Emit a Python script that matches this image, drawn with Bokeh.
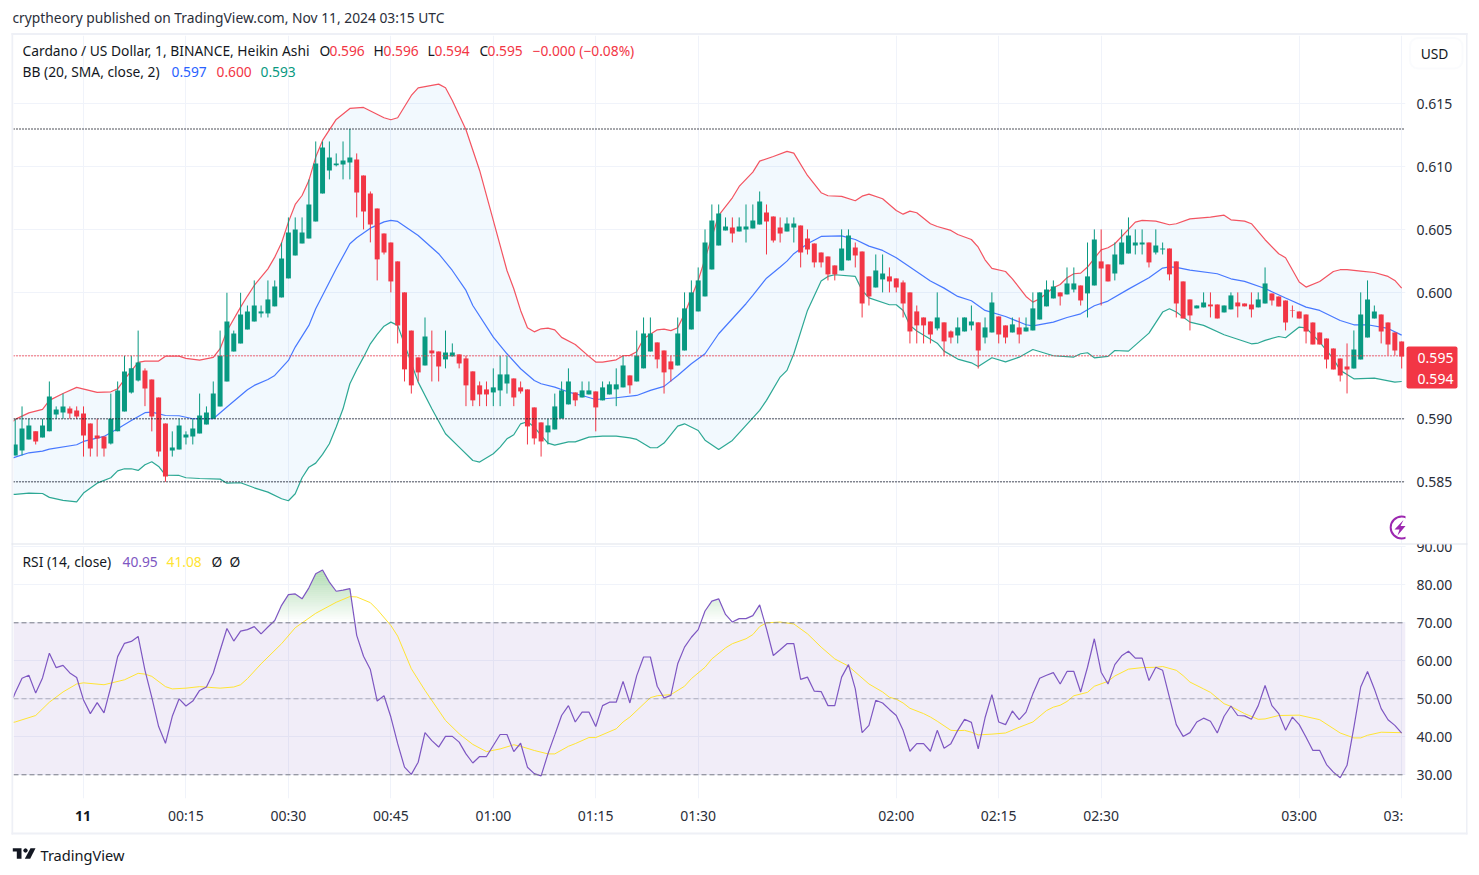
import numpy as np
from bokeh.embed import file_html
from bokeh.layouts import column
from bokeh.models import BoxAnnotation, FixedTicker, Label, PolyAnnotation, Range1d, Span
from bokeh.plotting import figure
from bokeh.resources import INLINE

# Heikin Ashi candles, one per bar
open_ = [.58709,.58748,.58836,.58900,.58852,.58900,.59034,.59050,.59082,.59066,.59042,.58963,.58867,.58860,.58804,.58900,.59058,.59209,.59304,.59384,.59312,.59169,.58963,.58748,.58756,.58852,.58860,.58884,.58955,.59000,
.59098,.59296,.59534,.59598,.59709,.59772,.59836,.59836,.59892,.59963,.60114,.60296,.60392,.60431,.60566,.60788,.60971,.61013,.61018,.61034,.61058,.60931,.60788,.60669,.60471,.60399,.60249,.60003,.59700,.59487,
.59423,.59542,.59534,.59471,.59495,.59511,.59479,.59376,.59265,.59233,.59209,.59225,.59280,.59320,.59249,.59233,.59090,.58971,.58892,.58915,.59003,.59114,.59209,.59169,.59193,.59217,.59146,.59193,.59233,.59249,
.59344,.59296,.59400,.59534,.59606,.59542,.59455,.59423,.59542,.59709,.59852,.59971,.60185,.60376,.60495,.60519,.60487,.60503,.60511,.60542,.60638,.60606,.60519,.60487,.60519,.60534,.60431,.60392,.60320,.60288,
.60217,.60177,.60257,.60360,.60328,.60130,.60042,.60106,.60130,.60114,.60082,.60003,.59852,.59804,.59772,.59717,.59765,.59693,.59661,.59693,.59741,.59765,.59645,.59685,.59812,.59741,.59685,.59725,.59693,.59701,
.59788,.59892,.59955,.60003,.59987,.60026,.60058,.59995,.60058,.60249,.60225,.60153,.60225,.60312,.60376,.60384,.60399,.60320,.60344,.60352,.60249,.60090,.59947,.59876,.59884,.59907,.59907,.59844,.59868,.59923,
.59915,.59907,.59884,.59915,.59995,.59971,.59939,.59860,.59852,.59828,.59765,.59685,.59638,.59558,.59479,.59415,.59399,.59471,.59645,.59796,.59828,.59765,.59685,.59614]
high = [.59000,.59098,.59000,.58900,.59000,.59296,.59098,.59200,.59098,.59098,.59098,.58963,.59000,.58860,.59200,.59296,.59500,.59500,.59700,.59400,.59312,.59169,.58963,.58900,.59000,.58900,.59000,.59200,.59098,.59296,
.59700,.60000,.59700,.60000,.59899,.60098,.59899,.60098,.60098,.60399,.60598,.60598,.60598,.60899,.61201,.61201,.61201,.61106,.61201,.61300,.61106,.60931,.60804,.60669,.60471,.60399,.60249,.60003,.59700,.59487,
.59804,.59700,.59534,.59700,.59598,.59511,.59500,.59376,.59296,.59296,.59400,.59500,.59500,.59320,.59296,.59233,.59090,.58971,.59000,.59200,.59296,.59400,.59209,.59296,.59296,.59217,.59296,.59296,.59400,.59500,
.59344,.59700,.59804,.59804,.59606,.59542,.59500,.59804,.60003,.60098,.60201,.60503,.60701,.60701,.60598,.60598,.60598,.60701,.60701,.60804,.60701,.60606,.60598,.60598,.60598,.60534,.60503,.60392,.60320,.60288,
.60217,.60503,.60503,.60399,.60328,.60130,.60304,.60304,.60201,.60114,.60098,.60003,.59899,.59804,.59772,.60003,.59765,.59701,.59804,.59804,.59899,.59765,.59804,.60003,.59812,.59741,.59804,.59804,.59804,.60003,
.60003,.60098,.60098,.60003,.60201,.60201,.60058,.60399,.60503,.60503,.60225,.60399,.60503,.60598,.60503,.60503,.60399,.60503,.60399,.60352,.60249,.60090,.59947,.59899,.60003,.60003,.59907,.59899,.60003,.60003,
.59915,.60003,.60003,.60201,.59995,.59971,.59939,.59899,.59852,.59828,.59765,.59685,.59638,.59558,.59479,.59598,.59701,.60003,.60098,.59899,.59828,.59765,.59685,.59614]
low = [.58709,.58709,.58836,.58796,.58852,.58900,.59000,.59000,.59000,.59000,.58700,.58700,.58700,.58700,.58796,.58900,.59058,.59200,.59296,.59100,.58900,.58700,.58500,.58700,.58756,.58796,.58796,.58884,.58955,.59000,
.59098,.59296,.59534,.59598,.59709,.59772,.59804,.59804,.59892,.59963,.60114,.60296,.60392,.60431,.60566,.60788,.60900,.61003,.60900,.60900,.60598,.60503,.60400,.60098,.60304,.60003,.59598,.59296,.59200,.59296,
.59423,.59296,.59296,.59400,.59495,.59400,.59100,.59100,.59100,.59100,.59100,.59100,.59200,.59100,.59200,.58796,.58796,.58700,.58796,.58915,.59003,.59114,.59100,.59169,.59193,.58900,.59146,.59193,.59100,.59249,
.59200,.59296,.59400,.59534,.59400,.59200,.59296,.59423,.59542,.59709,.59852,.59971,.60185,.60376,.60495,.60399,.60487,.60399,.60511,.60542,.60304,.60399,.60399,.60487,.60399,.60201,.60304,.60201,.60201,.60098,
.60098,.60177,.60257,.60201,.59804,.59899,.60042,.60003,.60003,.60003,.59804,.59598,.59598,.59598,.59598,.59701,.59500,.59598,.59598,.59693,.59701,.59399,.59598,.59685,.59598,.59598,.59685,.59598,.59693,.59701,
.59788,.59892,.59955,.59899,.59987,.60003,.59899,.59804,.60058,.59899,.60090,.60098,.60225,.60312,.60304,.60304,.60201,.60304,.60304,.60098,.59804,.59796,.59701,.59876,.59884,.59804,.59796,.59844,.59868,.59804,
.59892,.59804,.59884,.59915,.59899,.59892,.59701,.59804,.59796,.59598,.59590,.59590,.59399,.59392,.59296,.59201,.59399,.59471,.59645,.59796,.59598,.59503,.59503,.59399]
close = [.58796,.58923,.58947,.58820,.58947,.59177,.59074,.59098,.59042,.59018,.58867,.58764,.58844,.58764,.59000,.59225,.59376,.59400,.59447,.59241,.59018,.58740,.58542,.58772,.58947,.58876,.58923,.59026,.59050,.59200,
.59500,.59772,.59677,.59828,.59852,.59899,.59852,.59947,.60050,.60272,.60479,.60503,.60479,.60701,.61026,.61153,.61074,.61026,.61050,.61074,.60796,.60646,.60542,.60265,.60320,.60090,.59741,.59392,.59265,.59368,
.59653,.59519,.59415,.59526,.59526,.59439,.59265,.59146,.59193,.59193,.59249,.59352,.59352,.59169,.59217,.58939,.58844,.58820,.58947,.59098,.59225,.59296,.59146,.59225,.59225,.59090,.59249,.59273,.59273,.59423,
.59265,.59500,.59677,.59677,.59471,.59368,.59392,.59677,.59876,.60003,.60098,.60399,.60574,.60630,.60526,.60471,.60526,.60526,.60574,.60725,.60566,.60415,.60471,.60550,.60550,.60320,.60344,.60241,.60241,.60146,
.60146,.60352,.60455,.60296,.59915,.59971,.60177,.60153,.60090,.60042,.59915,.59693,.59741,.59741,.59669,.59804,.59614,.59645,.59725,.59804,.59772,.59542,.59725,.59923,.59669,.59645,.59749,.59669,.59725,.59876,
.60003,.60026,.60050,.59971,.60074,.60074,.59939,.60130,.60423,.60193,.60090,.60304,.60399,.60455,.60399,.60399,.60241,.60376,.60352,.60146,.59915,.59796,.59820,.59899,.59923,.59892,.59796,.59899,.59979,.59892,
.59892,.59868,.59947,.60074,.59939,.59892,.59765,.59855,.59796,.59693,.59590,.59590,.59471,.59392,.59344,.59392,.59550,.59828,.59947,.59852,.59693,.59590,.59542,.59495]

# Bollinger Bands, read at the vertices visible in the picture (bar index, price)
upper_i = [-0.3,0,2,4,5,7,9,12,14,15,16,18,19,21,22,24,25,27,29,30,31,33,34,35,37,38,39,40,41,42,43,44,45,47,49,51,54,55,56,58,59,62,63,64,66,68,70,72,73,74,75,76,77,78,79,80,82,84,85,86,88,89,90,91,92,94,95,96,97,98,100,103,105,106,108,109,111,113,114,116,118,119,121,123,124,125,127,129,130,131,132,134,135,137,138,140,141,142,143,145,146,148,149,150,152,153,154,155,156,157,159,160,161,164,165,167,169,170,172,175,177,178,180,181,183,185,186,188,189,191,193,194,195,197,199,201,202,203]
upper_v = [.58980,.58995,.59047,.59074,.59146,.59201,.59249,.59209,.59214,.59238,.59312,.59447,.59458,.59458,.59497,.59497,.59479,.59466,.59487,.59556,.59696,.59886,.59974,.60058,.60190,.60283,.60397,.60561,.60701,.60772,.60892,.61077,.61209,.61376,.61463,.61471,.61389,.61373,.61389,.61566,.61627,.61656,.61627,.61526,.61294,.60971,.60574,.60177,.60032,.59860,.59722,.59690,.59714,.59720,.59706,.59646,.59590,.59495,.59450,.59450,.59468,.59500,.59503,.59532,.59635,.59706,.59712,.59700,.59722,.59833,.60098,.60614,.60754,.60844,.60958,.61045,.61082,.61122,.61108,.60931,.60794,.60770,.60765,.60730,.60767,.60783,.60746,.60653,.60624,.60648,.60635,.60548,.60526,.60495,.60463,.60423,.60362,.60262,.60193,.60169,.60111,.59971,.59926,.59952,.60040,.60066,.60119,.60151,.60156,.60204,.60341,.60357,.60389,.60561,.60574,.60569,.60540,.60548,.60587,.60600,.60616,.60579,.60569,.60548,.60421,.60310,.60278,.60085,.60045,.60090,.60169,.60183,.60183,.60172,.60161,.60130,.60098,.60037]
basis_i = [-0.3,0,2,4,5,9,10,13,15,17,19,20,22,24,26,29,31,34,35,37,38,40,41,43,44,47,49,50,52,54,55,56,59,62,64,66,67,70,72,74,76,77,79,81,83,85,88,91,93,95,97,99,101,103,105,107,108,110,112,113,114,116,118,121,123,125,127,129,131,134,136,138,140,142,145,148,149,152,154,156,158,160,163,166,168,169,170,172,176,178,180,183,186,189,191,194,196,198,201,203]
basis_v = [.58690,.58696,.58730,.58743,.58759,.58794,.58820,.58860,.58921,.58987,.59048,.59053,.59026,.59024,.59000,.59000,.59093,.59230,.59265,.59312,.59344,.59463,.59569,.59741,.59873,.60190,.60389,.60437,.60513,.60563,.60574,.60566,.60455,.60310,.60177,.60019,.59899,.59648,.59516,.59397,.59304,.59278,.59251,.59212,.59185,.59153,.59167,.59185,.59225,.59257,.59344,.59437,.59516,.59675,.59794,.59913,.59979,.60116,.60204,.60251,.60310,.60389,.60447,.60452,.60423,.60370,.60336,.60278,.60204,.60093,.60037,.59971,.59937,.59860,.59812,.59746,.59738,.59767,.59804,.59833,.59897,.59934,.60029,.60119,.60196,.60206,.60201,.60180,.60151,.60111,.60090,.60034,.59958,.59886,.59860,.59780,.59746,.59746,.59717,.59664]
lower_i = [-0.3,0,2,4,5,7,9,10,12,14,15,16,17,18,19,20,21,22,24,25,27,30,31,33,35,37,39,40,41,42,43,44,45,46,47,48,49,50,51,52,53,54,55,56,59,61,63,65,67,68,70,71,72,73,74,75,76,77,78,79,81,82,84,86,88,90,91,93,94,95,97,98,100,101,103,105,109,110,112,113,114,116,118,119,120,123,124,125,128,129,130,131,132,135,136,138,140,141,143,145,147,149,152,155,156,157,158,160,161,163,166,168,169,170,172,174,177,181,182,183,185,186,188,189,191,193,194,195,196,199,202,203]
lower_v = [.58400,.58400,.58410,.58407,.58376,.58352,.58341,.58410,.58489,.58532,.58587,.58603,.58603,.58590,.58635,.58659,.58622,.58553,.58550,.58532,.58526,.58521,.58489,.58492,.58452,.58418,.58365,.58349,.58405,.58532,.58616,.58648,.58717,.58802,.58934,.59079,.59278,.59389,.59489,.59595,.59669,.59735,.59767,.59741,.59291,.59079,.58881,.58775,.58669,.58656,.58722,.58775,.58841,.58873,.58960,.58976,.58934,.58868,.58807,.58791,.58817,.58817,.58854,.58862,.58862,.58849,.58836,.58770,.58770,.58807,.58942,.58960,.58907,.58830,.58756,.58828,.59067,.59146,.59331,.59384,.59516,.59860,.60093,.60130,.60143,.60130,.60019,.59960,.59905,.59905,.59860,.59741,.59696,.59600,.59537,.59474,.59444,.59415,.59484,.59452,.59489,.59550,.59500,.59490,.59516,.59524,.59484,.59495,.59542,.59537,.59680,.59847,.59873,.59847,.59767,.59741,.59667,.59595,.59601,.59622,.59653,.59643,.59728,.59722,.59608,.59476,.59384,.59352,.59317,.59323,.59291,.59296]
price_levels = [.613, .590, .585]
last_close = .595

# RSI (bar by bar) and its moving average (read at vertices)
rsi = [50.3,51.6,55.4,56.2,51.5,55.5,62.0,58.2,58.8,56.8,55.6,49.7,46.1,49.0,46.3,53.1,61.1,64.6,65.1,66.4,57.5,50.4,42.7,38.3,45.4,50.0,48.1,49.4,52.2,53.1,56.8,62.7,68.5,65.2,67.8,68.2,69.0,67.1,68.9,70.6,74.6,77.4,77.6,76.3,79.2,82.9,83.9,80.7,78.3,78.6,79.0,66.7,61.2,57.7,49.4,50.8,45.2,38.2,32.0,30.1,33.3,41.1,39.0,37.3,40.1,40.1,38.6,35.5,33.1,34.8,34.8,37.7,
40.6,40.6,36.1,38.3,32.0,30.3,29.7,35.5,40.5,45.6,48.2,43.9,46.5,46.5,42.7,48.2,49.1,49.1,54.6,48.9,56.1,61.0,61.0,53.3,50.2,50.9,59.2,63.6,66.2,68.2,73.1,75.7,76.3,72.2,70.2,71.1,71.1,71.9,74.7,68.4,61.4,62.9,64.5,64.5,55.1,55.7,52.0,51.9,48.2,48.2,55.7,59.0,52.6,41.1,43.0,49.6,48.9,47.2,45.6,41.7,36.2,38.2,38.2,36.2,41.7,37.0,38.2,41.7,44.6,43.8,36.8,45.0,
51.1,43.9,43.2,46.8,44.5,46.5,51.3,55.4,56.2,56.9,53.9,57.2,57.2,51.8,58.3,65.8,57.0,53.9,59.0,61.3,62.5,60.7,60.7,54.8,58.3,57.5,50.4,43.2,40.1,41.1,43.9,44.9,44.1,41.0,45.4,48.1,45.6,45.5,44.6,48.2,53.5,48.2,46.1,41.7,45.2,43.2,39.9,36.4,36.4,32.7,30.7,29.2,32.5,42.5,53.1,57.2,52.6,47.4,44.5,43.0,40.95]
rsi_i = [-0.3] + list(range(204))
ma_i = [-0.3,0,3,5,7,9,10,13,16,18,19,20,22,23,25,27,30,32,33,34,36,39,41,44,47,49,50,52,53,55,56,58,60,63,65,67,69,71,73,74,76,78,79,81,82,84,85,88,89,90,93,94,96,98,99,101,102,104,105,107,108,109,110,112,114,116,118,120,122,125,127,128,129,130,131,133,134,135,137,138,139,140,141,143,145,147,149,151,152,153,154,155,157,158,160,161,163,165,167,168,170,171,172,174,175,177,178,180,182,183,185,188,191,194,196,197,198,200,203]
ma_v = [43.8,43.9,45.6,49.1,51.8,53.9,54.2,53.7,55.0,56.7,56.5,55.9,53.2,52.6,52.8,53.2,52.8,53.1,53.7,55.3,59.2,64.5,68.7,72.5,75.4,76.9,76.8,75.3,73.5,69.3,66.5,57.9,52.2,44.3,40.8,38.0,36.1,36.8,37.9,37.5,36.4,35.5,35.5,37.5,38.2,39.8,39.8,42.1,43.9,45.2,50.3,50.8,51.1,53.3,55.3,58.3,60.5,63.4,64.5,65.8,66.9,69.0,70.0,70.2,69.7,67.1,63.6,60.5,58.6,53.9,51.8,50.4,49.9,48.9,47.5,46.1,45.2,44.1,41.7,41.6,41.7,41.2,40.5,40.7,41.0,42.5,43.9,46.9,47.8,48.3,49.3,50.8,51.7,53.3,54.6,56.0,57.8,58.2,58.3,58.5,57.5,56.1,54.4,52.6,51.7,48.7,48.0,46.1,44.6,44.7,45.6,45.7,44.5,41.0,39.7,39.7,40.4,41.2,41.08]

# Axes
time_ticks = [10, 25, 40, 55, 70, 85, 100, 129, 144, 159, 188, 203]
time_labels = ["", "00:15", "00:30", "00:45", "01:00", "01:15", "01:30", "02:00", "02:15", "02:30", "03:00", ""]
price_ticks = [.585, .590, .595, .600, .605, .610, .615]
rsi_ticks = [30, 40, 50, 60, 70, 80]
rsi_grid = rsi_ticks + [90]

GREEN, RED, BLUE = "#089981", "#f23645", "#2962ff"
PURPLE, YELLOW = "#7e57c2", "#ffe433"
INK, GRID, BORDER = "#131722", "#f0f3fa", "#eef0f6"
FONT = "Noto Sans"
FS = 14
LEGEND_FS = 13.8
X_LIMITS = (-0.25, 203.56)


def base(height, ylim, ticks, grid_ticks, b_top, b_bottom):
    p = figure(width=1470, height=height, output_backend="svg", toolbar_location=None,
               x_range=Range1d(*X_LIMITS), y_range=Range1d(*ylim), y_axis_location="right",
               min_border_left=13, min_border_right=65, min_border_top=b_top, min_border_bottom=b_bottom)
    p.outline_line_color = None
    p.xgrid.ticker = FixedTicker(ticks=time_ticks)
    p.ygrid.ticker = FixedTicker(ticks=grid_ticks)
    for g in (p.xgrid, p.ygrid):
        g.grid_line_color = GRID
        g.grid_line_width = 1
    ax = p.yaxis[0]
    ax.ticker = FixedTicker(ticks=ticks)
    ax.axis_line_color = None
    ax.major_tick_line_color = None
    ax.minor_tick_line_color = None
    ax.major_label_standoff = 5
    ax.major_label_text_color = "#2a2e39"
    ax.major_label_text_font = FONT
    ax.major_label_text_font_size = f"{FS}px"
    return p


# ---------- price pane ----------
p1 = base(544, (0.58010, 0.62042), price_ticks, price_ticks, 35, 1)
p1.xaxis.visible = False
p1.yaxis[0].major_label_overrides = {t: f"{t:.3f}" for t in price_ticks}

p1.patch(upper_i + lower_i[::-1], upper_v + lower_v[::-1], fill_color="#2196f3", fill_alpha=0.06, line_color=None)
for lvl in price_levels:
    p1.add_layout(Span(location=lvl, dimension="width", line_color="#131722", line_width=1.4, line_dash="1 2"))
p1.add_layout(Span(location=last_close, dimension="width", line_color=RED, line_width=1.4, line_dash="1 2"))
p1.line(upper_i, upper_v, line_color=RED, line_alpha=0.85, line_width=1.2)
p1.line(basis_i, basis_v, line_color=BLUE, line_alpha=0.85, line_width=1.2)
p1.line(lower_i, lower_v, line_color=GREEN, line_alpha=0.85, line_width=1.2)

bars = np.arange(len(close))
o, h, l, c = map(np.array, (open_, high, low, close))
colors = np.where(c >= o, GREEN, RED).tolist()
p1.segment(bars, h, bars, l, line_color=colors, line_width=1)
p1.vbar(bars, 0.73, np.minimum(o, c), np.maximum(o, c), fill_color=colors, line_color=None)

# purple circled lightning mark, cut by the pane edge
p1.scatter([203], [0.58137], size=22, marker="circle", fill_color="white", line_color="#9c27b0", line_width=2)

# ---------- RSI pane ----------
p2 = base(326, (23.76, 90.08), rsi_ticks, rsi_grid, 2, 72)
p2.yaxis[0].major_label_overrides = {t: f"{t:.2f}" for t in rsi_ticks}
ax = p2.xaxis[0]
ax.ticker = FixedTicker(ticks=time_ticks)
ax.major_label_overrides = dict(zip(time_ticks, time_labels))
ax.axis_line_color = None
ax.major_tick_line_color = None
ax.minor_tick_line_color = None
ax.major_label_standoff = 1
ax.major_label_text_color = "#2a2e39"
ax.major_label_text_font = FONT
ax.major_label_text_font_size = f"{FS}px"

p2.add_layout(BoxAnnotation(bottom=30, top=70, fill_color=PURPLE, fill_alpha=0.11, line_color=None, level="underlay"))
# overbought gradient: thin stacked layers whose strength grows with the RSI level
fine_x = np.arange(35, 112, 0.1)
fine_r = np.interp(fine_x, rsi_i, rsi)
for lvl in np.arange(70, 84, 0.5):
    p2.varea(fine_x, np.full_like(fine_x, lvl), np.clip(fine_r, lvl, lvl + 0.5), fill_color="#4caf50",
             fill_alpha=0.45 * (lvl - 70) / 14)
for lvl, alpha in [(70, 1), (50, 0.55), (30, 1)]:
    p2.add_layout(Span(location=lvl, dimension="width", line_color="#787b86", line_alpha=alpha, line_width=1, line_dash="5 3"))
p2.line(ma_i, ma_v, line_color=YELLOW, line_width=1)
p2.line(rsi_i, rsi, line_color=PURPLE, line_width=1.2)

# ---------- page furniture: a clear sheet over both panes, its data units are page pixels ----------
PAGE_H = 870
sheet = figure(width=1470, height=PAGE_H, output_backend="svg", toolbar_location=None,
               x_range=Range1d(0, 1470), y_range=Range1d(PAGE_H, 0), x_axis_location=None, y_axis_location=None,
               min_border=0, margin=(-PAGE_H, 0, 0, 0))
sheet.outline_line_color = None
sheet.background_fill_alpha = 0
sheet.border_fill_alpha = 0
sheet.grid.visible = False


def label(x, y, text, color=INK, size=LEGEND_FS, weight="normal", align="left"):
    sheet.add_layout(Label(x=x, y=y - 1, text=text, text_color=color, text_font=FONT, text_font_size=f"{size}px",
                           text_font_style=weight, text_align=align, text_baseline="middle"))


def box(left, right, top, bottom, color, **kw):
    sheet.add_layout(BoxAnnotation(left=left, right=right, top=top, bottom=bottom, fill_color=color,
                                   fill_alpha=1, **{"line_color": None, **kw}))


def poly(xs, ys, color):
    sheet.add_layout(PolyAnnotation(xs=xs, ys=ys, fill_color=color, fill_alpha=1, line_color=None))


poly([1403, 1394, 1399, 1397, 1405, 1400], [519.5, 529, 529, 535, 525.5, 525.5], "#9c27b0")

label(12, 18, "cryptheory published on TradingView.com, Nov 11, 2024 03:15 UTC", "#2a2e39")
label(22, 51, "Cardano / US Dollar, 1, BINANCE, Heikin Ashi")
for x, t, col in [(319, "O", INK), (329, "0.596", RED), (373, "H", INK), (383, "0.596", RED), (427, "L", INK),
                  (434, "0.594", RED), (479, "C", INK), (487, "0.595", RED), (532, "\u22120.000 (\u22120.08%)", RED)]:
    label(x, 51, t, col)
label(22, 72, "BB (20, SMA, close, 2)")
for x, t, col in [(171, "0.597", BLUE), (216, "0.600", RED), (260, "0.593", GREEN)]:
    label(x, 72, t, col)

box(1409.5, 1462, 37.5, 68, "white", line_color=GRID, line_width=2, border_radius=8)
label(1434, 54, "USD", align="center")
box(1406, 1457, 346, 388, RED, border_radius=2)
label(1435, 358, "0.595", "white", FS, align="center")
label(1435, 379, "0.594", "white", FS, align="center")

label(22, 562, "RSI (14, close)")
for x, t, col in [(122, "40.95", PURPLE), (166, "41.08", YELLOW), (211, "\u00d8", INK), (229, "\u00d8", INK)]:
    label(x, 562, t, col)
label(82.5, 816, "11", INK, 14, weight="bold", align="center")
label(1383, 816, "03:", "#2a2e39", FS)

# 90.00 sits on the pane edge and is cut by the divider above it
label(1416, 547, "90.00", "#2a2e39", FS)
box(1406, 1465, 535, 543.5, "white")

# chart frame and pane divider
box(11, 1467, 32.5, 34.5, BORDER)
box(11, 12.7, 32.5, 834, BORDER)
box(1465.5, 1467, 32.5, 834, BORDER)
box(11, 1467, 832, 834, BORDER)
box(11, 1467, 543, 544, "#e0e3eb")
box(12.7, 1405, 545.5, 546.5, GRID)

# TradingView mark and wordmark
poly([12.3, 21, 21, 16.3, 16.3, 12.3], [847.7, 847.7, 858.3, 858.3, 851, 851], INK)
poly([30, 35, 29.7, 24.3], [847.7, 847.7, 858.3, 858.3], INK)
poly([23.4, 25, 26.6, 27.2, 26.6, 25, 23.4, 22.8], [848.4, 847.8, 848.4, 850, 851.6, 852.2, 851.6, 850], INK)
label(40, 855, "TradingView", INK, 14.6)

open("out.html", "w").write(file_html([column(p1, p2), sheet], INLINE))
